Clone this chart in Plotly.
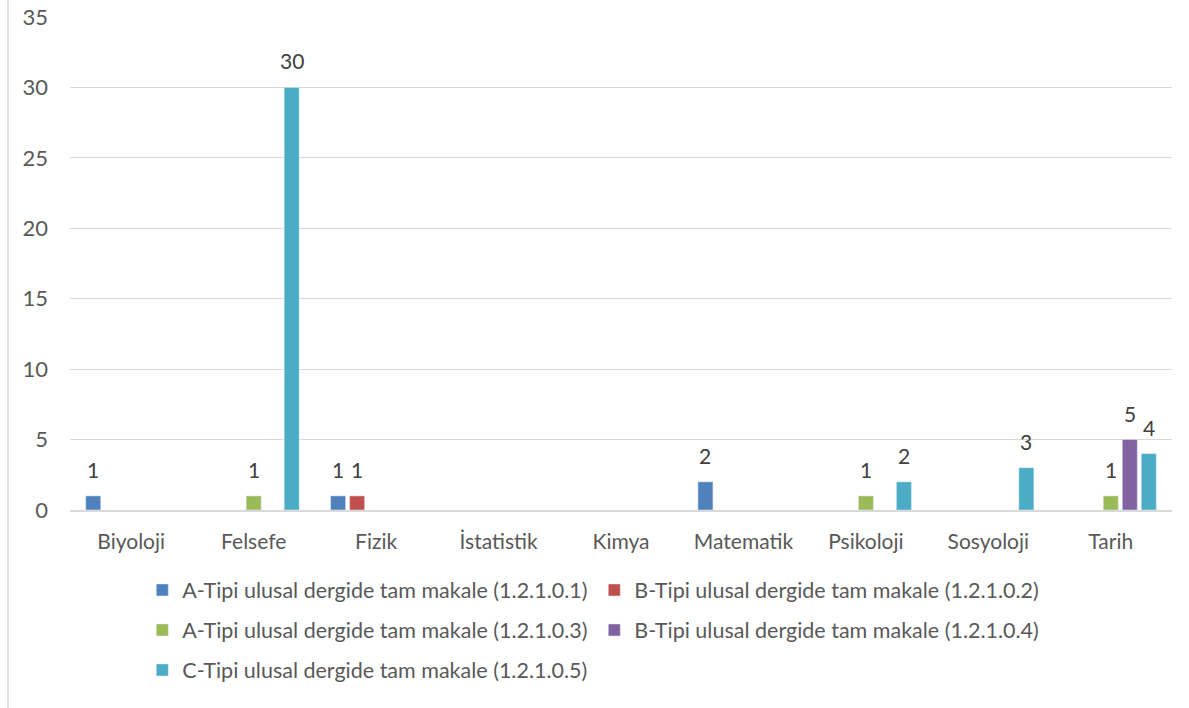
import plotly.graph_objects as go

categories = ["Biyoloji", "Felsefe", "Fizik", "İstatistik", "Kimya", "Matematik", "Psikoloji", "Sosyoloji", "Tarih"]
series_names = [
    "A-Tipi ulusal dergide tam makale (1.2.1.0.1)",
    "B-Tipi ulusal dergide tam makale (1.2.1.0.2)",
    "A-Tipi ulusal dergide tam makale (1.2.1.0.3)",
    "B-Tipi ulusal dergide tam makale (1.2.1.0.4)",
    "C-Tipi ulusal dergide tam makale (1.2.1.0.5)",
]
a1 = [1, None, 1, None, None, 2, None, None, None]
b2 = [None, None, 1, None, None, None, None, None, None]
a3 = [None, 1, None, None, None, None, 1, None, 1]
b4 = [None, None, None, None, None, None, None, None, 5]
c5 = [None, 30, None, None, None, None, 2, 3, 4]
values = [a1, b2, a3, b4, c5]
colors = ["#4F81BD", "#C0504D", "#9BBB59", "#8064A2", "#4BACC6"]
legend_ids = ["legend", "legend", "legend2", "legend2", "legend3"]

FONT = "Lato"
TXT = "#595959"
W, H = 1189, 708
ML, MR, MT, MB = 70, 17, 17, 198
BARGAP = 0.224
n_series = len(values)
plot_w = W - ML - MR
slot_px = plot_w / len(categories) * (1 - BARGAP) / n_series

fig = go.Figure()
for name, vals, col, lg in zip(series_names, values, colors, legend_ids):
    fig.add_trace(go.Bar(name=name, x=categories, y=vals, marker_color=col, legend=lg))

# data labels above the bars
for i, vals in enumerate(values):
    for cat, v in zip(categories, vals):
        if v is None:
            continue
        fig.add_annotation(x=cat, y=v, text=str(v), showarrow=False,
                           xanchor="center", yanchor="bottom",
                           xshift=(i - (n_series - 1) / 2) * slot_px, yshift=12,
                           font=dict(family=FONT, size=21, color="#404040"))

leg_common = dict(orientation="h", xanchor="left", yanchor="middle",
                  xref="paper", yref="container",
                  font=dict(family=FONT, size=21.5, color=TXT),
                  entrywidth=407, entrywidthmode="pixels",
                  bgcolor="rgba(0,0,0,0)", itemclick=False)

fig.update_layout(
    width=W, height=H,
    margin=dict(l=ML, r=MR, t=MT, b=MB),
    paper_bgcolor="white", plot_bgcolor="white",
    barmode="group", bargap=BARGAP, bargroupgap=0.21,
    font=dict(family=FONT, color=TXT),
    xaxis=dict(showgrid=False, showline=True, linecolor="#D9D9D9", linewidth=1.5,
               tickfont=dict(family=FONT, size=21, color=TXT), ticks="",
               ticklabelstandoff=12, automargin=False, ticklabeloverflow="allow"),
    yaxis=dict(range=[0, 35], dtick=5, showgrid=True, gridcolor="#D9D9D9", gridwidth=1.3,
               zeroline=False, showline=False, ticks="",
               tickfont=dict(family=FONT, size=22, color=TXT), ticklabelstandoff=21,
               automargin=False, ticklabeloverflow="allow"),
    legend=dict(x=0.0656, y=(H - 590) / H, **leg_common),
    legend2=dict(x=0.0656, y=(H - 630) / H, **leg_common),
    legend3=dict(x=0.0656, y=(H - 670) / H, **leg_common),
    showlegend=True,
)
fig.add_shape(type="line", xref="paper", yref="paper", x0=-62 / plot_w, x1=-62 / plot_w,
              y0=-0.45, y1=1.1, line=dict(color="#D9D9D9", width=1.5))

fig.write_html("out.html", config={"displayModeBar": False},
               post_script="document.body.style.margin='0';")
